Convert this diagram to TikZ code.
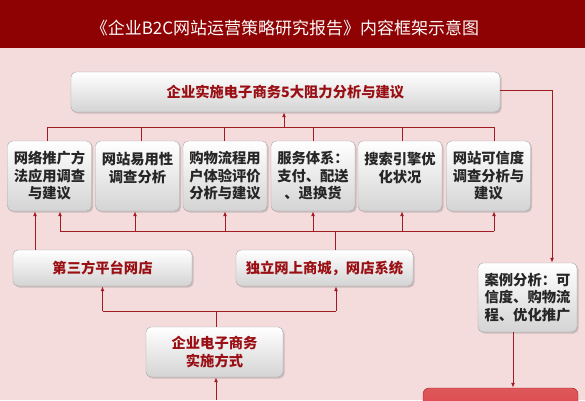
\documentclass[tikz,border=0pt]{standalone}
\usepackage{fontspec}
\setmainfont{Noto Sans CJK SC}
\usetikzlibrary{shadows,arrows.meta}
\definecolor{darkred}{HTML}{8E0203}
\definecolor{pinkbg}{HTML}{F4DCDD}
\definecolor{linered}{HTML}{A01C22}
\definecolor{textred}{HTML}{9A0F14}
\definecolor{boxred}{HTML}{D83A3D}
\tikzset{
  box/.style={draw=black!35, rounded corners=5pt, top color=white, bottom color=black!17,
    drop shadow={opacity=0.35, shadow xshift=1.5pt, shadow yshift=-1.5pt},
    align=center, inner sep=0pt, font=\fontsize{14.3}{17.5}\selectfont\bfseries},
  redtext/.style={box, text=textred},
  greytext/.style={box, text=black!85, minimum width=84pt, minimum height=70pt},
  link/.style={draw=linered, line width=1pt},
  arr/.style={link, -{Latex[length=5pt,width=4pt]}},
}
\begin{document}
\begin{tikzpicture}[x=1pt, y=-1pt]
\useasboundingbox (0,0) rectangle (585,400);
\clip (0,0) rectangle (585,400);
\fill[pinkbg] (0,0) rectangle (585,400);
\fill[darkred] (0,0) rectangle (585,48);
\node[text=white!92!pink, font=\fontsize{17}{20}\selectfont] (title) at (285,28) {《企业B2C网站运营策略研究报告》内容框架示意图};
% top box
\node[redtext, minimum width=429pt, minimum height=40pt] (top) at (285.5,92) {企业实施电子商务5大阻力分析与建议};
% six analysis boxes
\node[greytext] (b1) at (49.5,176) {网络推广方\\法应用调查\\与建议};
\node[greytext] (b2) at (137.5,176) {网站易用性\\调查分析\\\mbox{}};
\node[greytext] (b3) at (225,176) {购物流程用\\户体验评价\\分析与建议};
\node[greytext] (b4) at (313,176) {服务体系：\\支付、配送\\、退换货};
\node[greytext] (b5) at (400,176) {搜索引擎优\\化状况\\\mbox{}};
\node[greytext] (b6) at (488.5,176) {网站可信度\\调查分析与\\建议};
% shop types
\node[redtext, minimum width=179pt, minimum height=36pt] (s1) at (102.5,268) {第三方平台网店};
\node[redtext, minimum width=177pt, minimum height=36pt] (s2) at (324.5,268) {独立网上商城，网店系统};
\node[redtext, minimum width=137pt, minimum height=50pt] (mode) at (214.5,352) {企业电子商务\\实施方式};
% case and result
\node[box, text=black!85, minimum width=99pt, minimum height=69pt] (case) at (527.5,297.5) {案例分析：可\\信度、购物流\\程、优化推广};
\node[draw=linered, rounded corners=6pt, top color=boxred!85!white, bottom color=boxred,
  minimum width=155pt, minimum height=44pt] (red) at (500.5,410) {};
% upper connectors
\coordinate (tb) at (284,127);
\draw[arr] (tb) -- (tb |- top.south);
\draw[link] ([xshift=-2.5pt]b1.north) |- ([xshift=5.5pt]b6.north |- tb) -- ([xshift=5.5pt]b6.north);
\foreach \n/\dx in {b2/3.5,b3/-1,b4/0,b5/2}
  \draw[link] ([xshift=\dx pt]\n.north) -- ([xshift=\dx pt]\n.north |- tb);
% lower bus
\coordinate (bb) at (335,231);
\draw[link] (s2.north -| bb) -- (bb);
\draw[link] ([xshift=10.5pt]b1.south |- bb) -- ([xshift=5.5pt]b6.south |- bb);
\foreach \n/\dx in {b1/10.5,b2/-2.5,b3/0,b4/0,b5/2,b6/5.5}
  \draw[arr] ([xshift=\dx pt]\n.south |- bb) -- ([xshift=\dx pt]\n.south);
\draw[arr] ([xshift=-14.5pt]b1.south |- s1.north) -- ([xshift=-14.5pt]b1.south);
% implementation modes
\coordinate (lb) at (216,311);
\draw[link] (mode.north -| lb) -- (lb);
\draw[link] (s1.south |- lb) -- ([xshift=11.5pt]s2.south |- lb);
\draw[arr] (s1.south |- lb) -- (s1.south);
\draw[arr] ([xshift=11.5pt]s2.south |- lb) -- ([xshift=11.5pt]s2.south);
\coordinate (bot) at (216,400);
\draw[arr] (bot) -- (mode.south -| bot);
% right side
\coordinate (rc) at (552,90);
\draw[arr] (top.east |- rc) -| (case.north -| rc);
\coordinate (cx) at (513,0);
\draw[arr] (case.south -| cx) -- (red.north -| cx);
\end{tikzpicture}
\end{document}
